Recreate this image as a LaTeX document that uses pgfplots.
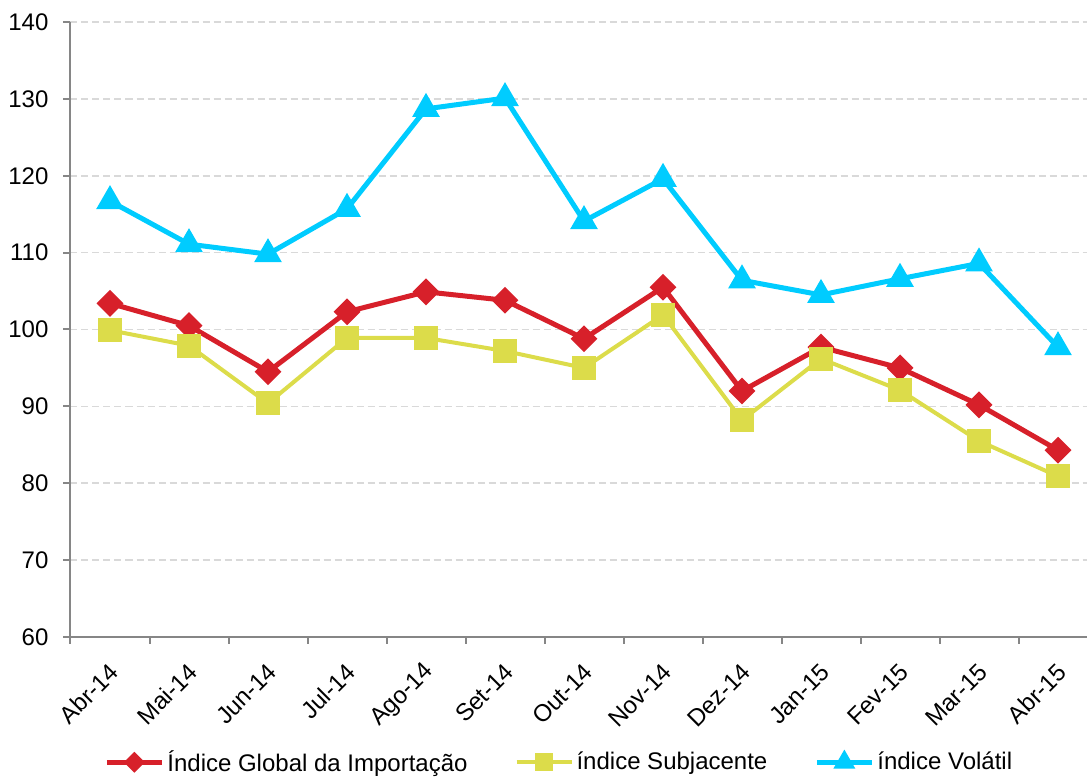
\documentclass[border=0pt]{standalone}
\usepackage{fontspec}
\setmainfont{Liberation Sans}
\usepackage{pgfplots}
\pgfplotsset{compat=1.18}
\definecolor{cred}{HTML}{D7202A}
\definecolor{cyel}{HTML}{DCDC4A}
\definecolor{cblue}{HTML}{00CCFF}
\definecolor{caxis}{HTML}{868686}
\definecolor{cgrid}{HTML}{D9D9D9}
\begin{document}
\begin{tikzpicture}
\begin{axis}[
  x=39.5pt, y=3.84375pt,
  xmin=-0.5, xmax=12.5, ymin=60, ymax=140,
  clip=false,
  axis lines*=left,
  axis line style={caxis, line width=1pt},
  every tick/.style={caxis, line width=1pt},
  tick align=outside,
  major tick length=3.5pt,
  ytick={60,70,...,140},
  ymajorgrids,
  grid style={cgrid, line width=0.8pt, dash pattern=on 3.5pt off 2pt},
  xtick={0,...,12},
  xticklabels={Abr-14,Mai-14,Jun-14,Jul-14,Ago-14,Set-14,Out-14,Nov-14,Dez-14,Jan-15,Fev-15,Mar-15,Abr-15},
  x tick style={draw=none},
  extra x ticks={-0.5,0.5,...,11.5},
  extra x tick labels={},
  extra x tick style={x tick style={draw=caxis}, grid=none},
  /pgf/number format/assume math mode=true,
  tick label style={font=\fontsize{12pt}{14pt}\selectfont},
  xticklabel style={rotate=45, anchor=east, xshift=-3.5pt, yshift=-10pt},
  yticklabel style={xshift=-4pt},
  legend style={at={(0.4764,-0.2037)}, anchor=center, draw=none,
    font=\fontsize{12pt}{14pt}\selectfont,
    legend columns=3,
    /tikz/every even column/.append style={column sep=22pt},
    nodes={inner sep=1.5pt}},
  legend cell align=left,
  legend image code/.code={\draw[mark repeat=2,mark phase=2,#1,every mark/.append style={scale=0.7}] plot coordinates {(0pt,0pt) (13.75pt,0pt) (27.5pt,0pt)};},
]
\addplot[cred, line width=2.5pt, mark=square*, mark size=3.5pt, mark options={rotate=45, solid}] coordinates {
(0,103.4) (1,100.5) (2,94.5) (3,102.3) (4,104.9) (5,103.8) (6,98.8) (7,105.5) (8,92.0) (9,97.7) (10,95.0) (11,90.2) (12,84.3)};
\addlegendentry{Índice Global da Importação}
\addplot[cyel, line width=2pt, mark=square*, mark size=5pt, mark options={solid}] coordinates {
(0,99.9) (1,97.9) (2,90.4) (3,98.9) (4,98.9) (5,97.2) (6,95.0) (7,101.9) (8,88.2) (9,96.2) (10,92.1) (11,85.5) (12,80.9)};
\addlegendentry{índice Subjacente}
\addplot[cblue, line width=2.5pt, mark=triangle*, mark size=5.5pt, mark options={solid}] coordinates {
(0,116.7) (1,111.1) (2,109.8) (3,115.7) (4,128.7) (5,130.1) (6,114.1) (7,119.6) (8,106.4) (9,104.5) (10,106.6) (11,108.6) (12,97.7)};
\addlegendentry{índice Volátil}
\coordinate (bbl) at (axis cs:-1.3924,41.659);
\coordinate (btr) at (axis cs:12.367,142.862);
\end{axis}
\pgfresetboundingbox
\path[use as bounding box] (bbl) rectangle (btr);
\end{tikzpicture}
\end{document}
